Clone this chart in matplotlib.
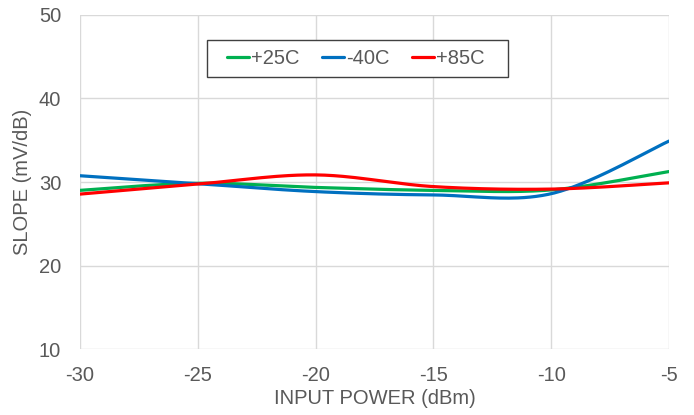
import numpy as np
import matplotlib
matplotlib.use("Agg")
import matplotlib.pyplot as plt
from matplotlib.patches import Rectangle

plt.rcParams['font.family'] = ['Liberation Sans', 'DejaVu Sans']
plt.rcParams['axes.unicode_minus'] = False

input_power = [-30, -25, -20, -15, -10, -5]
slope_25c = [29.0, 29.85, 29.35, 29.0, 29.05, 31.25]
slope_m40c = [30.75, 29.8, 28.85, 28.45, 28.6, 34.9]
slope_85c = [28.55, 29.75, 30.85, 29.45, 29.15, 29.9]

TEXT = "#595959"
GRID = "#d9d9d9"
FS = 14.5
W, H = 694, 415


def smooth(x, y, n=40):
    # excel-like smoothed line: cubic bezier with catmull-rom control points
    pts = np.column_stack([np.asarray(x, float), np.asarray(y, float)])
    out = []
    for i in range(len(pts) - 1):
        p0 = pts[i - 1] if i > 0 else pts[i]
        p1 = pts[i]
        p2 = pts[i + 1]
        p3 = pts[i + 2] if i + 2 < len(pts) else pts[i + 1]
        c1 = p1 + (p2 - p0) / 6
        c2 = p2 - (p3 - p1) / 6
        t = np.linspace(0, 1, n)[:, None]
        seg = ((1 - t) ** 3) * p1 + 3 * ((1 - t) ** 2) * t * c1 + 3 * (1 - t) * t ** 2 * c2 + t ** 3 * p2
        out.append(seg if i == 0 else seg[1:])
    out = np.vstack(out)
    return out[:, 0], out[:, 1]


fig = plt.figure(figsize=(W / 100, H / 100), dpi=100)
ax = fig.add_axes([80 / W, 1 - 349 / H, 589 / W, 334 / H])

series = [
    ("+25C", slope_25c, "#00B050"),
    ("-40C", slope_m40c, "#0070C0"),
    ("+85C", slope_85c, "#FF0000"),
]
handles = []
for label, vals, color in series:
    sx, sy = smooth(input_power, vals)
    h, = ax.plot(sx, sy, color=color, lw=2.3, label=label, solid_capstyle="round")
    handles.append(h)

ax.set_xlim(-30, -5)
ax.set_ylim(10, 50)
ax.set_xticks(range(-30, -4, 5))
ax.set_yticks(range(10, 51, 10))
ax.grid(True, color=GRID, lw=1)
ax.set_axisbelow(True)
for s in ax.spines.values():
    s.set_visible(False)
ax.tick_params(length=0, labelsize=FS, colors=TEXT)
ax.tick_params(axis="x", pad=12)
ax.tick_params(axis="y", pad=13.5)
ax.set_xlabel("INPUT POWER (dBm)", fontsize=FS, color=TEXT, labelpad=3)
ax.set_ylabel("SLOPE (mV/dB)", fontsize=FS, color=TEXT, labelpad=5)

# legend box drawn separately so the padding matches
box = Rectangle((207 / W, 1 - 77 / H), 301 / W, 37 / H,
                transform=fig.transFigure, facecolor="white",
                edgecolor="#404040", lw=1, zorder=3)
fig.patches.append(box)
leg = fig.legend(handles=handles, loc="center left", bbox_to_anchor=(227 / W, 1 - 58.5 / H),
                 ncol=3, fontsize=FS, frameon=False,
                 handlelength=1.1, handletextpad=0.1, columnspacing=1.1,
                 borderpad=0, borderaxespad=0)
leg.set_zorder(5)
for t in leg.get_texts():
    t.set_color(TEXT)

fig.savefig("out.png", dpi=100)
